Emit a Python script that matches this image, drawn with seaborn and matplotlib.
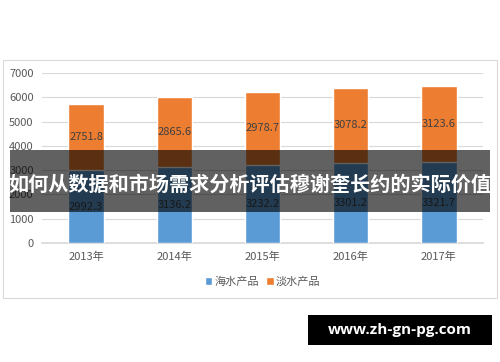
import matplotlib
matplotlib.use("Agg")
import matplotlib.pyplot as plt
from matplotlib.patches import Rectangle
import seaborn as sns
import pandas as pd

years = ["2013年", "2014年", "2015年", "2016年", "2017年"]
sea_vals = [2992.3, 3136.2, 3232.2, 3301.2, 3321.7]
fresh_vals = [2751.8, 2865.6, 2978.7, 3078.2, 3123.6]
series_names = ["海水产品", "淡水产品"]
banner_text = "如何从数据和市场需求分析评估穆谢奎长约的实际价值"
site_text = "www.zh-gn-pg.com"

blue = "#5B9BD5"
orange = "#ED7D31"

sns.set_theme(style="white")
plt.rcParams["font.family"] = ["Noto Sans CJK SC", "DejaVu Sans"]

df = pd.DataFrame({"year": years, "sea": sea_vals, "fresh": fresh_vals})
df["total"] = df["sea"] + df["fresh"]

fig = plt.figure(figsize=(5, 3.62), dpi=100)
fig.patch.set_facecolor("white")

# chart frame
fig.patches.append(Rectangle((3 / 500, 1 - 298 / 362), 494 / 500, 238 / 362,
                             transform=fig.transFigure, fill=False,
                             edgecolor="#D9D9D9", linewidth=0.8))

ax = fig.add_axes([0.084, 1 - 243 / 362, 0.882, 170 / 362])

# stacked: total in orange, sea on top in blue
sns.barplot(data=df, x="year", y="total", color=orange, width=0.4,
            saturation=1, ax=ax, label=series_names[1], zorder=2)
sns.barplot(data=df, x="year", y="sea", color=blue, width=0.4,
            saturation=1, ax=ax, label=series_names[0], zorder=3)

ax.set_ylim(0, 7000)
ax.set_xlim(-0.5, 4.5)
ax.set_yticks(range(0, 7001, 1000))
ax.yaxis.grid(True, color="#D9D9D9", linewidth=0.8, zorder=0)
ax.set_axisbelow(True)
for s in ["top", "right", "left"]:
    ax.spines[s].set_visible(False)
ax.spines["bottom"].set_color("#D9D9D9")
ax.tick_params(axis="both", length=0, labelsize=8, labelcolor="#595959", pad=6)
ax.set_xlabel("")
ax.set_ylabel("")

for i, (s, f) in enumerate(zip(sea_vals, fresh_vals)):
    ax.text(i, s / 2, f"{s}", ha="center", va="center", fontsize=8,
            color="#404040", zorder=4)
    ax.text(i, s + f / 2, f"{f}", ha="center", va="center", fontsize=8,
            color="#404040", zorder=4)

handles, labels = ax.get_legend_handles_labels()
order = [labels.index(n) for n in series_names]
ax.legend([handles[k] for k in order], [labels[k] for k in order],
          loc="center", bbox_to_anchor=(0.5, -0.225), ncol=2,
          frameon=False, fontsize=8, handlelength=0.7, handleheight=0.7,
          handletextpad=0.2, columnspacing=0.6, labelcolor="#595959")

# overlay banner
fig.patches.append(Rectangle((10 / 500, 1 - 212 / 362), 480 / 500, 62 / 362,
                             transform=fig.transFigure, facecolor="black",
                             alpha=0.62, edgecolor="none", zorder=10))
fig.text(0.5, 1 - 184 / 362, banner_text, ha="center", va="center",
         color="white", fontsize=14.5, fontweight="bold", zorder=11)

# site box
fig.patches.append(Rectangle((308 / 500, 1 - 345 / 362), 184 / 500, 30 / 362,
                             transform=fig.transFigure, facecolor="black",
                             edgecolor="none", zorder=10))
fig.text(400 / 500, 1 - 330 / 362, site_text, ha="center", va="center",
         color="white", fontsize=11, fontweight="bold", zorder=11,
         family=["Open Sans", "DejaVu Sans"])

fig.savefig("out.png", dpi=100)
